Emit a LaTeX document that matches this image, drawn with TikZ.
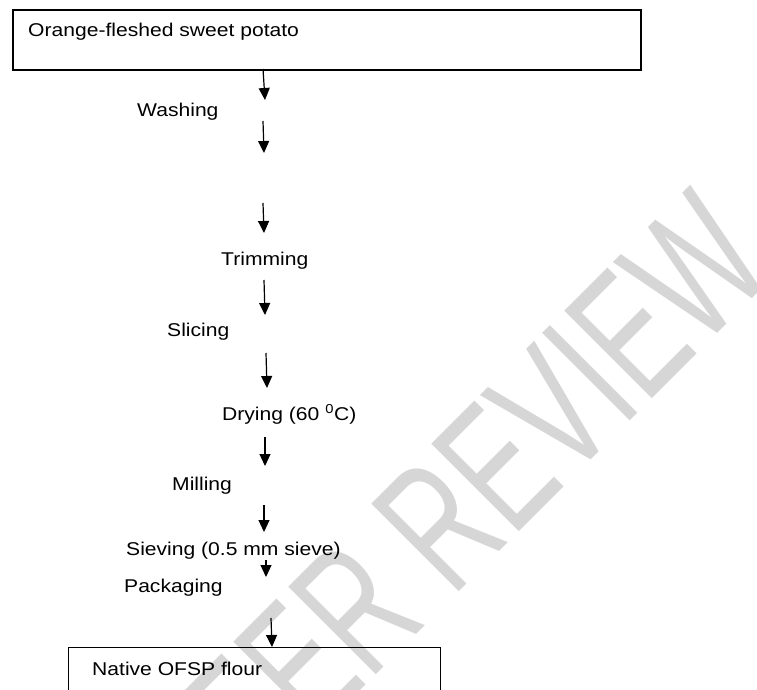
\documentclass[tikz,border=0pt]{standalone}
\usepackage{fontspec}
\setmainfont{Liberation Sans}
\usetikzlibrary{arrows.meta}
\newcommand{\stx}[1]{\scalebox{1.14}[1]{#1}}
\begin{document}
\begin{tikzpicture}[x=1pt,y=-1pt,
  lbl/.style={anchor=base west, inner sep=0pt, font=\fontsize{18.5}{22}\selectfont},
  flow/.style={-{Triangle[width=11pt,length=12pt]}, line width=1.2pt},
  topbox/.style={draw, line width=1.8pt, anchor=north west, inner sep=0pt, minimum width=628pt, minimum height=60pt},
  botbox/.style={draw, line width=1.2pt, anchor=north west, inner sep=0pt, minimum width=372pt, minimum height=70pt},
  wmark/.style={rotate=45, text=black!16, inner sep=0pt, anchor=base east, font=\fontsize{180}{180}\selectfont}
]
\useasboundingbox (0,0) rectangle (757,690);
\clip (0,0) rectangle (757,690);
\fill[white] (0,0) rectangle (757,690);

% watermark
\node[wmark] (wm) at (779,272) {\scalebox{0.65}[1]{PEER REVIEW}};

% boxes
\node[topbox] (top) at (12,9) {};
\node[botbox] (bot) at (68,647) {};

% texts
\node[lbl] (t0) at (28,37) {\stx{Orange-fleshed sweet potato}};
\node[lbl] (t1) at (137,117) {\stx{Washing}};
\node[lbl] (t2) at (221,265) {\stx{Trimming}};
\node[lbl] (t3) at (167,336) {\stx{Slicing}};
\node[lbl] (t4) at (222,420) {\stx{Drying (60 \textsuperscript{0}C)}};
\node[lbl] (t5) at (172,490) {\stx{Milling}};
\node[lbl] (t6) at (126,555) {\stx{Sieving (0.5 mm sieve)}};
\node[lbl] (t7) at (124,592) {\stx{Packaging}};
\node[lbl] (t8) at (92,675) {\stx{Native OFSP flour}};

% arrow end points
\coordinate (a1s) at (263,69);  \coordinate (a1e) at (265,100);
\coordinate (a2s) at (263,121); \coordinate (a2e) at (264,153);
\coordinate (a3s) at (263,203); \coordinate (a3e) at (264,233);
\coordinate (a4s) at (264,280); \coordinate (a4e) at (265,315);
\coordinate (a5s) at (266,353); \coordinate (a5e) at (267,388);
\coordinate (a6s) at (265,437); \coordinate (a6e) at (265,466);
\coordinate (a7s) at (264,505); \coordinate (a7e) at (264,532);
\coordinate (a8s) at (266,560); \coordinate (a8e) at (266,577);
\coordinate (a9s) at (271,618); \coordinate (a9e) at (272,647);

\foreach \i in {1,...,9} {\draw[flow] (a\i s) -- (a\i e);}
\end{tikzpicture}
\end{document}
